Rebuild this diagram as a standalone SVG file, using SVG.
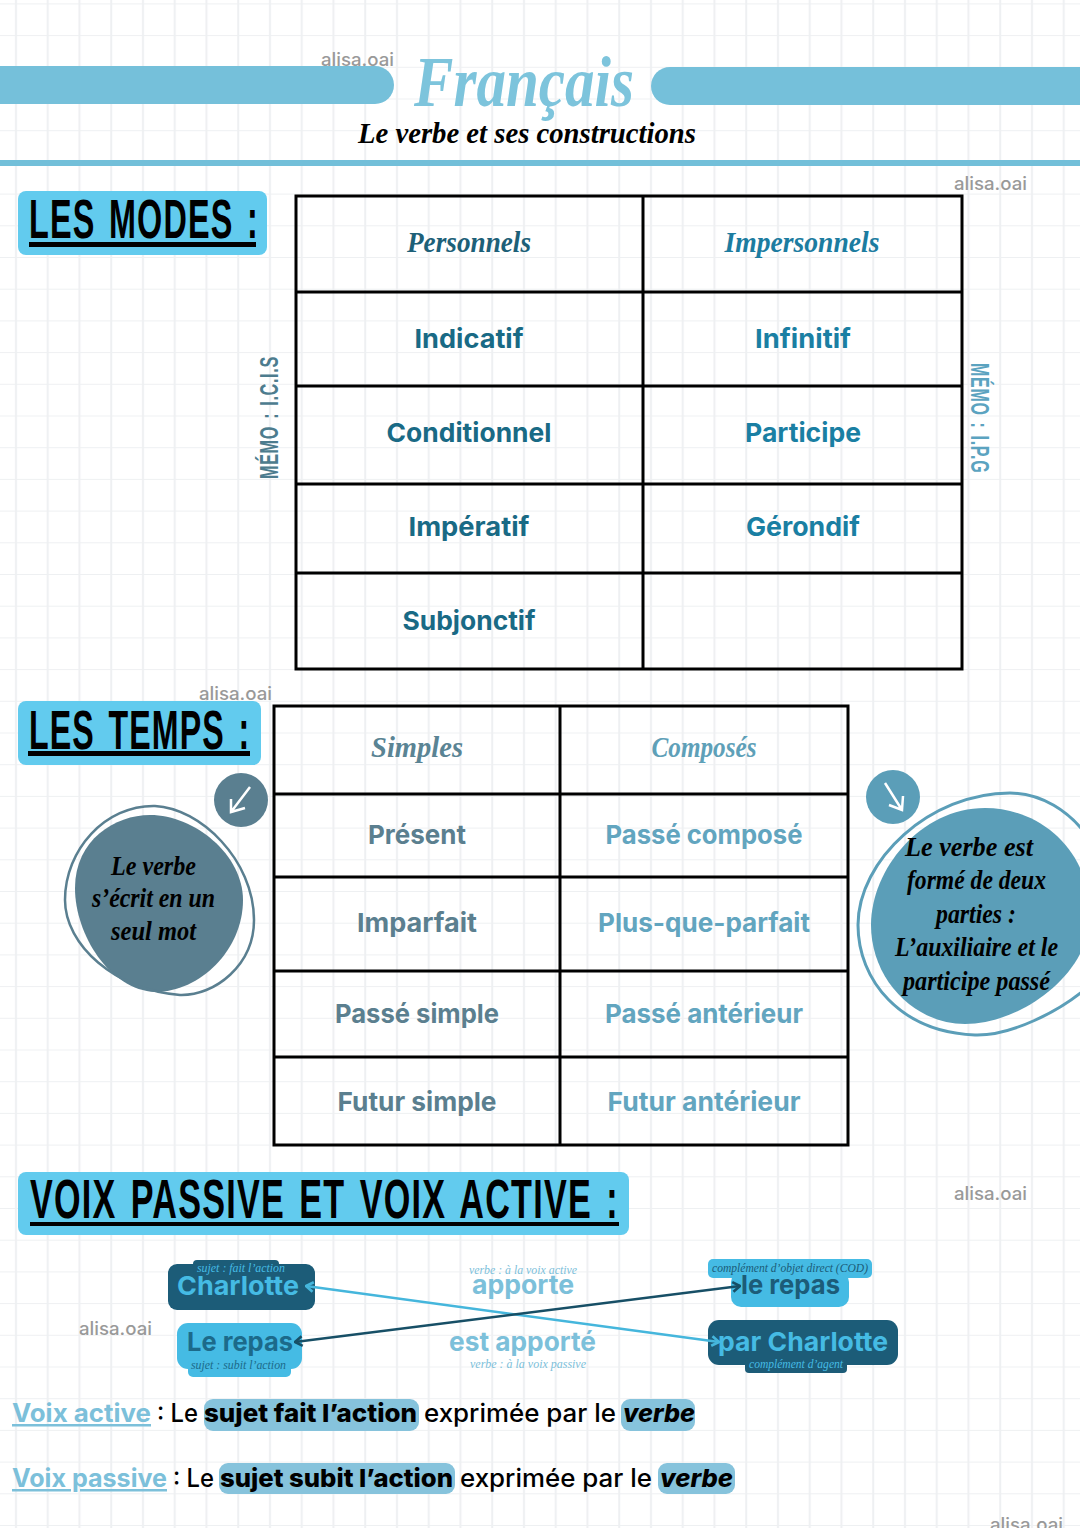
<svg xmlns="http://www.w3.org/2000/svg" width="1080" height="1528" viewBox="0 0 1080 1528">
<style>
text{font-family:"Inter","Liberation Sans",sans-serif}
.b{font-weight:700;font-size:26px}
.s{font-family:"Liberation Serif","DejaVu Serif",serif;font-style:italic;font-weight:700}
.n{font-family:"Liberation Sans",sans-serif;font-weight:700;fill:#000;font-size:56px;letter-spacing:2px;word-spacing:6px}
.me{font-size:25px;letter-spacing:1px;word-spacing:3px}
.w{font-size:18px;fill:#999;font-weight:500}
.m{text-anchor:middle}
.t{fill:none;stroke:#000;stroke-width:3}
.h{fill:#62cbee}
.hl{fill:#86c3dc}
.r{font-size:25px;font-weight:500;fill:#000}
.x{font-size:25px;font-weight:800;fill:#000}
.u{font-size:25px;font-weight:700;fill:#7cc0da;text-decoration:underline}
.dk{fill:#1c5c78}.lt{fill:#45bbe4}
.blab{font-size:26px;font-weight:700}
.sub{font-size:12px;font-weight:400}
</style>
<defs>
<pattern id="grid" width="31.75" height="31.7" patternUnits="userSpaceOnUse" x="0" y="3.4">
<path d="M16 0V31.7M0 0H31.75" stroke="#eef0f2" stroke-width="2" fill="none"/>
</pattern>
<marker id="al" viewBox="0 0 10 10" refX="9" refY="5" markerWidth="12" markerHeight="12" markerUnits="userSpaceOnUse" orient="auto-start-reverse"><path d="M3 1L9 5L3 9" fill="none" stroke="#45b6dc" stroke-width="2.2"/></marker>
<marker id="ad" viewBox="0 0 10 10" refX="9" refY="5" markerWidth="12" markerHeight="12" markerUnits="userSpaceOnUse" orient="auto-start-reverse"><path d="M3 1L9 5L3 9" fill="none" stroke="#174f66" stroke-width="2.2"/></marker>
</defs>
<rect width="1080" height="1528" fill="#fff"/>
<rect width="1080" height="1528" fill="url(#grid)"/>

<g id="watermarks">
<text class="w" x="321" y="66" textLength="73" lengthAdjust="spacingAndGlyphs">alisa.oai</text>
<text class="w" x="954" y="190" textLength="73" lengthAdjust="spacingAndGlyphs">alisa.oai</text>
<text class="w" x="199" y="700" textLength="73" lengthAdjust="spacingAndGlyphs">alisa.oai</text>
<text class="w" x="954" y="1200" textLength="73" lengthAdjust="spacingAndGlyphs">alisa.oai</text>
<text class="w" x="79" y="1335" textLength="73" lengthAdjust="spacingAndGlyphs">alisa.oai</text>
<text class="w" x="990" y="1531" textLength="73" lengthAdjust="spacingAndGlyphs">alisa.oai</text>
</g>

<g id="header">
<path d="M0 66H375a19 19 0 0 1 0 38H0Z" fill="#75c0da"/>
<path d="M1080 67H670a19 19 0 0 0 0 38H1080Z" fill="#75c0da"/>
<rect x="0" y="160" width="1080" height="6" fill="#72bfd9"/>
<text class="s" x="414" y="106" font-size="72" fill="#7dc4dc" textLength="220" lengthAdjust="spacingAndGlyphs">Français</text>
<text class="s" x="358" y="143" font-size="30" fill="#000" textLength="338" lengthAdjust="spacingAndGlyphs">Le verbe et ses constructions</text>
</g>

<g id="heading-modes">
<rect class="h" x="18" y="191" width="249" height="64" rx="8"/>
<text class="n" transform="translate(29 238) scale(.578 1)">LES MODES :</text>
<rect x="29" y="242" width="227" height="5" fill="#000"/>
</g>

<g id="table-modes">
<path class="t" d="M296 196H962V669H296ZM643 196V669M296 292H962M296 386H962M296 484H962M296 573H962"/>
<text class="s m" x="469" y="252" font-size="30" fill="#1d6078" textLength="124" lengthAdjust="spacingAndGlyphs">Personnels</text>
<text class="s m" x="802" y="252" font-size="30" fill="#1c7ca0" textLength="155" lengthAdjust="spacingAndGlyphs">Impersonnels</text>
<text class="b m" x="469" y="348" fill="#196a85" textLength="109" lengthAdjust="spacingAndGlyphs">Indicatif</text>
<text class="b m" x="469" y="442" fill="#196a85" textLength="165" lengthAdjust="spacingAndGlyphs">Conditionnel</text>
<text class="b m" x="469" y="536" fill="#196a85" textLength="121" lengthAdjust="spacingAndGlyphs">Impératif</text>
<text class="b m" x="469" y="630" fill="#196a85" textLength="133" lengthAdjust="spacingAndGlyphs">Subjonctif</text>
<text class="b m" x="803" y="348" fill="#1a7fa3" textLength="96" lengthAdjust="spacingAndGlyphs">Infinitif</text>
<text class="b m" x="803" y="442" fill="#1a7fa3" textLength="116" lengthAdjust="spacingAndGlyphs">Participe</text>
<text class="b m" x="803" y="536" fill="#1a7fa3" textLength="114" lengthAdjust="spacingAndGlyphs">Gérondif</text>
</g>

<g id="memo-left"><text class="n me" transform="translate(278 479) rotate(-90) scale(.649 1)" style="fill:#4d7c8e">MÉMO : I.C.I.S</text></g>
<g id="memo-right"><text class="n me" transform="translate(971 363) rotate(90) scale(.643 1)" style="fill:#5ba3c0">MÉMO : I.P.G</text></g>

<g id="heading-temps">
<rect class="h" x="18" y="701" width="243" height="64" rx="8"/>
<text class="n" transform="translate(29 749) scale(.574 1)">LES TEMPS :</text>
<rect x="28" y="751" width="222" height="5" fill="#000"/>
</g>

<g id="table-temps">
<path class="t" d="M274 706H848V1145H274ZM560 706V1145M274 794H848M274 877H848M274 971H848M274 1057H848"/>
<text class="s m" x="417" y="757" font-size="30" fill="#5a8494" textLength="92" lengthAdjust="spacingAndGlyphs">Simples</text>
<text class="s m" x="704" y="757" font-size="30" fill="#5ea0b8" textLength="105" lengthAdjust="spacingAndGlyphs">Composés</text>
<text class="b m" x="417" y="844" fill="#5b7f8f" textLength="98" lengthAdjust="spacingAndGlyphs">Présent</text>
<text class="b m" x="417" y="932" fill="#5b7f8f" textLength="120" lengthAdjust="spacingAndGlyphs">Imparfait</text>
<text class="b m" x="417" y="1023" fill="#5b7f8f" textLength="164" lengthAdjust="spacingAndGlyphs">Passé simple</text>
<text class="b m" x="417" y="1111" fill="#5b7f8f" textLength="159" lengthAdjust="spacingAndGlyphs">Futur simple</text>
<text class="b m" x="704" y="844" fill="#62a5bf" textLength="197" lengthAdjust="spacingAndGlyphs">Passé composé</text>
<text class="b m" x="704" y="932" fill="#62a5bf" textLength="212" lengthAdjust="spacingAndGlyphs">Plus-que-parfait</text>
<text class="b m" x="704" y="1023" fill="#62a5bf" textLength="198" lengthAdjust="spacingAndGlyphs">Passé antérieur</text>
<text class="b m" x="704" y="1111" fill="#62a5bf" textLength="193" lengthAdjust="spacingAndGlyphs">Futur antérieur</text>
</g>

<g id="note-left">
<path d="M75 888C75 840 115 815 150 815C195 815 243 855 243 900C243 950 200 992 155 992C110 990 75 935 75 888Z" fill="#5a7f90"/>
<path d="M65 900C65 850 105 805 155 806C200 808 254 860 254 920C254 965 215 996 180 995C115 990 65 945 65 900Z" fill="none" stroke="#5a7f90" stroke-width="2.5"/>
<g font-size="27" fill="#000">
<text class="s m" x="153.500" y="875" textLength="85" lengthAdjust="spacingAndGlyphs">Le verbe</text>
<text class="s m" x="153.500" y="907" textLength="123" lengthAdjust="spacingAndGlyphs">s’écrit en un</text>
<text class="s m" x="153.500" y="940" textLength="85" lengthAdjust="spacingAndGlyphs">seul mot</text>
</g>
<circle cx="241" cy="800" r="27" fill="#5a7f90"/>
<path d="M250 787L231 812M231 799L231 812L245 808" fill="none" stroke="#fff" stroke-width="2.500"/>
</g>

<g id="note-right">
<path d="M871 925C871 870 920 808 985 808C1040 808 1090 850 1090 915C1090 975 1020 1024 965 1024C915 1024 871 980 871 925Z" fill="#5b9eb8"/>
<path d="M858 925C858 860 930 793 1010 793C1040 793 1070 810 1090 840M1090 985C1060 1012 1010 1036 975 1035C900 1032 858 980 858 925" fill="none" stroke="#5b9eb8" stroke-width="3"/>
<g font-size="27" fill="#000">
<text class="s m" x="969" y="856" textLength="128" lengthAdjust="spacingAndGlyphs">Le verbe est</text>
<text class="s m" x="976.500" y="889" textLength="139" lengthAdjust="spacingAndGlyphs">formé de deux</text>
<text class="s m" x="976" y="923" textLength="80" lengthAdjust="spacingAndGlyphs">parties :</text>
<text class="s m" x="976.500" y="956" textLength="163" lengthAdjust="spacingAndGlyphs">L’auxiliaire et le</text>
<text class="s m" x="976.500" y="990" textLength="147" lengthAdjust="spacingAndGlyphs">participe passé</text>
</g>
<circle cx="893" cy="797" r="27" fill="#5b9eb8"/>
<path d="M885 783L902 810M889 805L902 810L903 796" fill="none" stroke="#fff" stroke-width="2.500"/>
</g>

<g id="heading-voix">
<rect class="h" x="18" y="1172" width="611" height="63" rx="8"/>
<text class="n" transform="translate(30 1218) scale(.61 1)">VOIX PASSIVE ET VOIX ACTIVE :</text>
<rect x="30" y="1222" width="589" height="4" fill="#000"/>
</g>

<g id="node-charlotte">
<rect class="dk" x="168" y="1264" width="147" height="46" rx="9"/>
<rect class="dk" x="193" y="1260" width="86" height="14" rx="4"/>
<text class="s sub" x="197" y="1272" fill="#45bbe4" textLength="88" lengthAdjust="spacingAndGlyphs">sujet : fait l’action</text>
<text class="blab" x="177" y="1295" fill="#45bbe4" textLength="122" lengthAdjust="spacingAndGlyphs">Charlotte</text>
</g>
<g id="node-le-repas">
<rect class="lt" x="177" y="1323" width="125" height="46" rx="11"/>
<rect class="lt" x="188" y="1360" width="103" height="17" rx="5"/>
<text class="blab" x="187" y="1351" fill="#1c6a8a" textLength="106" lengthAdjust="spacingAndGlyphs">Le repas</text>
<text class="s sub" x="191" y="1369" fill="#1c6a8a" textLength="95" lengthAdjust="spacingAndGlyphs">sujet : subit l’action</text>
</g>
<g id="node-apporte">
<text class="s sub" x="469" y="1274" fill="#7cc0da" textLength="108" lengthAdjust="spacingAndGlyphs">verbe : à la voix active</text>
<text class="blab" x="472" y="1294" fill="#7cc0da" textLength="102" lengthAdjust="spacingAndGlyphs">apporte</text>
</g>
<g id="node-est-apporte">
<text class="blab" x="449" y="1351" fill="#7cc0da" textLength="147" lengthAdjust="spacingAndGlyphs">est apporté</text>
<text class="s sub" x="470" y="1368" fill="#7cc0da" textLength="116" lengthAdjust="spacingAndGlyphs">verbe : à la voix passive</text>
</g>
<g id="node-le-repas-cod">
<rect class="lt" x="731" y="1272" width="118" height="35" rx="10"/>
<rect class="lt" x="708" y="1259" width="164" height="19" rx="5"/>
<text class="s sub" x="712" y="1272" fill="#1c5c78" textLength="156" lengthAdjust="spacingAndGlyphs">complément d’objet direct (COD)</text>
<text class="blab" x="741" y="1294" fill="#1c5c78" textLength="99" lengthAdjust="spacingAndGlyphs">le repas</text>
</g>
<g id="node-par-charlotte">
<rect class="dk" x="708" y="1320" width="190" height="45" rx="11"/>
<rect class="dk" x="745" y="1358" width="102" height="15" rx="4"/>
<text class="blab" x="718" y="1351" fill="#45bbe4" textLength="170" lengthAdjust="spacingAndGlyphs">par Charlotte</text>
<text class="s sub" x="749" y="1368" fill="#45bbe4" textLength="94" lengthAdjust="spacingAndGlyphs">complément d’agent</text>
</g>

<g id="connectors" fill="none" stroke-width="2.500">
<line x1="719" y1="1342" x2="306" y2="1286" stroke="#45b6dc" marker-start="url(#al)" marker-end="url(#al)"/>
<line x1="295" y1="1342" x2="740" y2="1286" stroke="#174f66" marker-start="url(#ad)" marker-end="url(#ad)"/>
</g>

<g id="definition-active">
<rect class="hl" x="204" y="1399" width="215" height="32" rx="9"/>
<rect class="hl" x="621" y="1399" width="74" height="32" rx="9"/>
<text class="u" x="12" y="1422" textLength="139" lengthAdjust="spacingAndGlyphs">Voix active</text>
<text class="r" x="157" y="1422" textLength="41" lengthAdjust="spacingAndGlyphs">: Le</text>
<text class="x" x="204" y="1422" textLength="213" lengthAdjust="spacingAndGlyphs">sujet fait l’action</text>
<text class="r" x="424" y="1422" textLength="192" lengthAdjust="spacingAndGlyphs">exprimée par le</text>
<text class="x" font-style="italic" x="623" y="1422" textLength="72" lengthAdjust="spacingAndGlyphs">verbe</text>
</g>
<g id="definition-passive">
<rect class="hl" x="219" y="1463" width="236" height="31" rx="9"/>
<rect class="hl" x="658" y="1463" width="77" height="31" rx="9"/>
<text class="u" x="12" y="1487" textLength="155" lengthAdjust="spacingAndGlyphs">Voix passive</text>
<text class="r" x="173" y="1487" textLength="41" lengthAdjust="spacingAndGlyphs">: Le</text>
<text class="x" x="220" y="1487" textLength="233" lengthAdjust="spacingAndGlyphs">sujet subit l’action</text>
<text class="r" x="460" y="1487" textLength="192" lengthAdjust="spacingAndGlyphs">exprimée par le</text>
<text class="x" font-style="italic" x="660" y="1487" textLength="73" lengthAdjust="spacingAndGlyphs">verbe</text>
</g>
</svg>
